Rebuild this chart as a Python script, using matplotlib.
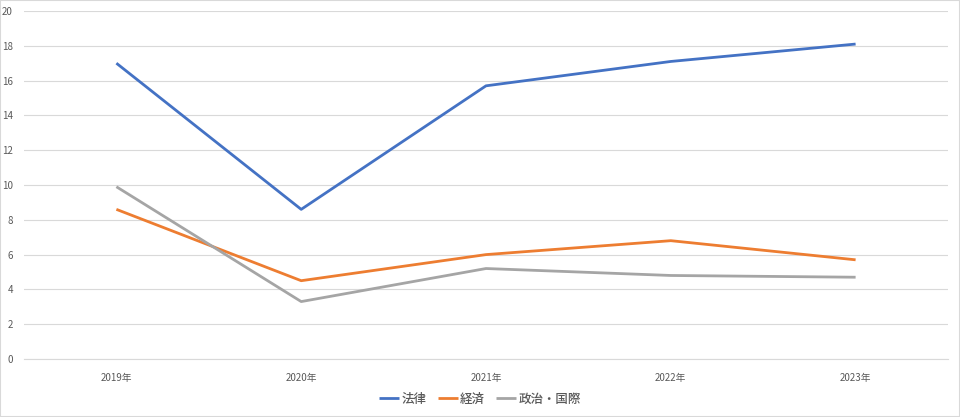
import matplotlib
matplotlib.use('Agg')
import matplotlib.pyplot as plt

plt.rcParams['font.family'] = ['Noto Sans CJK JP', 'DejaVu Sans']

#Chart data
years   = ['2019年', '2020年', '2021年', '2022年', '2023年']
law     = [17.0, 8.6, 15.7, 17.1, 18.1]
economy = [8.6, 4.5, 6.0, 6.8, 5.7]
politics = [9.9, 3.3, 5.2, 4.8, 4.7]

series_names  = ['法律', '経済', '政治・国際']
series_colors = ['#4472C4', '#ED7D31', '#A5A5A5']

W, H = 960, 417
fig = plt.figure(figsize=(W/100, H/100), dpi=100)
ax = fig.add_axes([24/W, 1-359/H, (948-24)/W, (359-11)/H])

x = list(range(len(years)))
for vals, name, col in zip([law, economy, politics], series_names, series_colors):
    ax.plot(x, vals, color=col, lw=2, label=name, solid_capstyle='butt')

ax.set_xlim(-0.5, len(years)-0.5)
ax.set_ylim(0, 20)
ax.set_yticks(range(0, 21, 2))
ax.set_xticks(x)
ax.set_xticklabels(years)
ax.grid(axis='y', color='#D9D9D9', lw=0.8)
ax.set_axisbelow(True)
for s in ['top', 'right', 'left']:
    ax.spines[s].set_visible(False)
ax.spines['bottom'].set_color('#D9D9D9')
ax.tick_params(axis='both', length=0, labelsize=7, colors='#595959')
ax.tick_params(axis='y', pad=8)
ax.tick_params(axis='x', pad=10)
for lbl in ax.get_yticklabels():
    lbl.set_horizontalalignment('right')

fig.legend(loc='center', bbox_to_anchor=(0.5, 1-399/H), ncol=3, frameon=False,
           prop={'size': 9, 'weight': 'medium'}, labelcolor='#595959',
           handlelength=1.6, handletextpad=0.2, columnspacing=0.9)

# light border round the whole chart
fig.patches.append(plt.Rectangle((0, 0), 1, 1, transform=fig.transFigure,
                                 fill=False, edgecolor='#D9D9D9', lw=1.5))

fig.savefig('out.png', dpi=100)
